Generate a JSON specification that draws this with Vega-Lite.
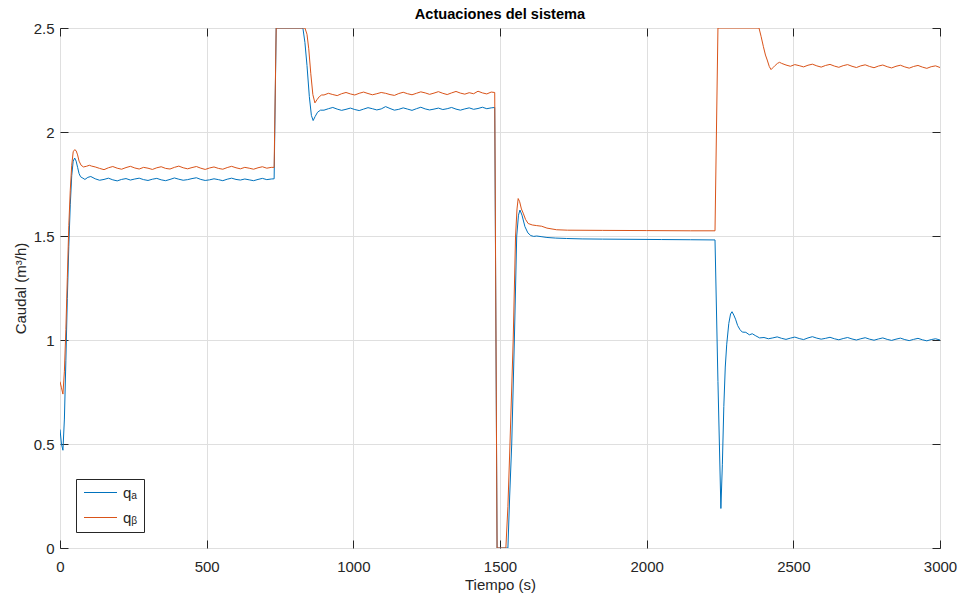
{
  "$schema": "https://vega.github.io/schema/vega-lite/v6.json",
  "width": 880,
  "height": 520,
  "autosize": {"type": "none"},
  "padding": {"left": 60, "top": 28, "right": 20, "bottom": 51},
  "background": "white",
  "title": {"text": "Actuaciones del sistema", "fontSize": 14.6, "fontWeight": "bold", "font": "Liberation Sans", "color": "#000000", "offset": -1, "anchor": "middle"},
  "config": {
    "view": {"stroke": "#262626", "strokeWidth": 1},
    "axis": {
      "domain": false,
      "labelFont": "Liberation Sans",
      "labelFontSize": 15,
      "labelColor": "#262626",
      "titleFont": "Liberation Sans",
      "titleFontSize": 15,
      "titleFontWeight": "normal",
      "titleColor": "#262626",
      "gridColor": "#dfdfdf",
      "gridWidth": 1,
      "tickColor": "#262626",
      "tickSize": -8
    },
    "legend": {
      "labelFont": "Liberation Sans",
      "labelFontSize": 15,
      "labelColor": "#262626"
    }
  },
  "datasets": {
    "qa": [
      {"t":0,"q":0.57},{"t":5,"q":0.50},{"t":10,"q":0.47},{"t":15,"q":0.62},{"t":20,"q":0.90},{"t":25,"q":1.20},{"t":30,"q":1.45},{"t":35,"q":1.65},{"t":40,"q":1.79},{"t":45,"q":1.86},{"t":50,"q":1.875},{"t":55,"q":1.86},{"t":60,"q":1.83},{"t":65,"q":1.80},{"t":70,"q":1.785},{"t":78,"q":1.778},{"t":85,"q":1.772},{"t":95,"q":1.782},{"t":105,"q":1.786},
      {"t":120,"q":1.775},{"t":135,"q":1.768},{"t":150,"q":1.772},{"t":165,"q":1.778},{"t":180,"q":1.770},{"t":195,"q":1.765},{"t":210,"q":1.772},{"t":225,"q":1.776},{"t":240,"q":1.769},{"t":255,"q":1.774},{"t":270,"q":1.778},{"t":285,"q":1.771},{"t":300,"q":1.767},{"t":315,"q":1.773},{"t":330,"q":1.777},{"t":345,"q":1.770},{"t":360,"q":1.766},{"t":375,"q":1.772},{"t":390,"q":1.779},{"t":405,"q":1.773},{"t":420,"q":1.768},{"t":435,"q":1.771},{"t":450,"q":1.776},{"t":465,"q":1.780},{"t":480,"q":1.772},{"t":495,"q":1.767},{"t":510,"q":1.770},{"t":525,"q":1.775},{"t":540,"q":1.771},{"t":555,"q":1.766},{"t":570,"q":1.773},{"t":585,"q":1.778},{"t":600,"q":1.772},{"t":615,"q":1.769},{"t":630,"q":1.774},{"t":645,"q":1.770},{"t":660,"q":1.766},{"t":675,"q":1.772},{"t":690,"q":1.777},{"t":705,"q":1.771},{"t":720,"q":1.774},
      {"t":730,"q":1.775},{"t":737,"q":2.5},{"t":828,"q":2.5},{"t":835,"q":2.43},{"t":842,"q":2.32},{"t":850,"q":2.17},{"t":857,"q":2.08},{"t":863,"q":2.055},{"t":870,"q":2.075},{"t":878,"q":2.095},{"t":888,"q":2.105},
      {"t":900,"q":2.105},{"t":915,"q":2.112},{"t":930,"q":2.118},{"t":945,"q":2.110},{"t":960,"q":2.104},{"t":975,"q":2.109},{"t":990,"q":2.115},{"t":1005,"q":2.108},{"t":1020,"q":2.103},{"t":1035,"q":2.110},{"t":1050,"q":2.117},{"t":1065,"q":2.112},{"t":1080,"q":2.106},{"t":1095,"q":2.111},{"t":1110,"q":2.122},{"t":1125,"q":2.113},{"t":1140,"q":2.105},{"t":1155,"q":2.109},{"t":1170,"q":2.116},{"t":1185,"q":2.110},{"t":1200,"q":2.104},{"t":1215,"q":2.112},{"t":1230,"q":2.119},{"t":1245,"q":2.111},{"t":1260,"q":2.106},{"t":1275,"q":2.110},{"t":1290,"q":2.115},{"t":1305,"q":2.108},{"t":1320,"q":2.112},{"t":1335,"q":2.118},{"t":1350,"q":2.110},{"t":1365,"q":2.105},{"t":1380,"q":2.111},{"t":1395,"q":2.116},{"t":1410,"q":2.109},{"t":1425,"q":2.113},{"t":1440,"q":2.119},{"t":1455,"q":2.112},{"t":1470,"q":2.116},
      {"t":1482,"q":2.118},{"t":1490,"q":0},{"t":1527,"q":0},{"t":1533,"q":0.25},{"t":1540,"q":0.5},{"t":1549,"q":1.0},{"t":1557,"q":1.5},{"t":1563,"q":1.6},{"t":1568,"q":1.625},{"t":1575,"q":1.60},{"t":1585,"q":1.545},{"t":1595,"q":1.515},{"t":1605,"q":1.502},{"t":1615,"q":1.498},{"t":1625,"q":1.50},{"t":1640,"q":1.497},{"t":1660,"q":1.493},{"t":1690,"q":1.49},{"t":1727,"q":1.488},{"t":1780,"q":1.486},{"t":1850,"q":1.485},{"t":1950,"q":1.484},{"t":2050,"q":1.483},{"t":2150,"q":1.482},{"t":2233,"q":1.481},
      {"t":2243,"q":0.8},{"t":2253,"q":0.19},{"t":2258,"q":0.40},{"t":2263,"q":0.68},{"t":2268,"q":0.87},{"t":2273,"q":0.98},{"t":2280,"q":1.08},{"t":2286,"q":1.125},{"t":2291,"q":1.136},{"t":2297,"q":1.12},{"t":2303,"q":1.10},{"t":2310,"q":1.07},{"t":2318,"q":1.05},{"t":2326,"q":1.038},{"t":2338,"q":1.037},{"t":2350,"q":1.025},{"t":2360,"q":1.03},{"t":2372,"q":1.02},{"t":2385,"q":1.01},
      {"t":2400,"q":1.012},{"t":2415,"q":1.006},{"t":2430,"q":1.010},{"t":2445,"q":1.015},{"t":2460,"q":1.008},{"t":2475,"q":1.003},{"t":2490,"q":1.009},{"t":2505,"q":1.014},{"t":2520,"q":1.007},{"t":2535,"q":1.002},{"t":2550,"q":1.010},{"t":2565,"q":1.016},{"t":2580,"q":1.009},{"t":2595,"q":1.004},{"t":2610,"q":1.008},{"t":2625,"q":1.013},{"t":2640,"q":1.006},{"t":2655,"q":1.001},{"t":2670,"q":1.007},{"t":2685,"q":1.012},{"t":2700,"q":1.005},{"t":2715,"q":1.000},{"t":2730,"q":1.006},{"t":2745,"q":1.011},{"t":2760,"q":1.004},{"t":2775,"q":0.999},{"t":2790,"q":1.005},{"t":2805,"q":1.010},{"t":2820,"q":1.003},{"t":2835,"q":0.998},{"t":2850,"q":1.004},{"t":2865,"q":1.009},{"t":2880,"q":1.002},{"t":2895,"q":0.997},{"t":2910,"q":1.003},{"t":2925,"q":1.008},{"t":2940,"q":1.001},{"t":2955,"q":0.996},{"t":2970,"q":1.002},{"t":2985,"q":1.006},{"t":3000,"q":1.000}
    ],
    "qb": [
      {"t":0,"q":0.80},{"t":5,"q":0.77},{"t":10,"q":0.74},{"t":15,"q":0.85},{"t":20,"q":1.05},{"t":25,"q":1.30},{"t":30,"q":1.55},{"t":35,"q":1.72},{"t":40,"q":1.84},{"t":45,"q":1.905},{"t":50,"q":1.915},{"t":55,"q":1.91},{"t":60,"q":1.89},{"t":65,"q":1.86},{"t":72,"q":1.84},{"t":80,"q":1.832},{"t":90,"q":1.835},{"t":100,"q":1.84},{"t":108,"q":1.836},
      {"t":120,"q":1.832},{"t":135,"q":1.825},{"t":150,"q":1.819},{"t":165,"q":1.828},{"t":180,"q":1.834},{"t":195,"q":1.826},{"t":210,"q":1.821},{"t":225,"q":1.829},{"t":240,"q":1.835},{"t":255,"q":1.827},{"t":270,"q":1.822},{"t":285,"q":1.830},{"t":300,"q":1.826},{"t":315,"q":1.820},{"t":330,"q":1.828},{"t":345,"q":1.833},{"t":360,"q":1.825},{"t":375,"q":1.822},{"t":390,"q":1.830},{"t":405,"q":1.836},{"t":420,"q":1.828},{"t":435,"q":1.823},{"t":450,"q":1.829},{"t":465,"q":1.834},{"t":480,"q":1.826},{"t":495,"q":1.820},{"t":510,"q":1.827},{"t":525,"q":1.832},{"t":540,"q":1.825},{"t":555,"q":1.821},{"t":570,"q":1.829},{"t":585,"q":1.835},{"t":600,"q":1.828},{"t":615,"q":1.823},{"t":630,"q":1.830},{"t":645,"q":1.826},{"t":660,"q":1.821},{"t":675,"q":1.828},{"t":690,"q":1.833},{"t":705,"q":1.826},{"t":720,"q":1.830},
      {"t":730,"q":1.83},{"t":737,"q":2.5},{"t":835,"q":2.5},{"t":842,"q":2.47},{"t":848,"q":2.40},{"t":855,"q":2.28},{"t":862,"q":2.18},{"t":869,"q":2.14},{"t":876,"q":2.155},{"t":884,"q":2.17},{"t":892,"q":2.178},
      {"t":900,"q":2.178},{"t":915,"q":2.186},{"t":930,"q":2.180},{"t":945,"q":2.175},{"t":960,"q":2.184},{"t":975,"q":2.190},{"t":990,"q":2.183},{"t":1005,"q":2.178},{"t":1020,"q":2.186},{"t":1035,"q":2.192},{"t":1050,"q":2.185},{"t":1065,"q":2.179},{"t":1080,"q":2.184},{"t":1095,"q":2.190},{"t":1110,"q":2.186},{"t":1125,"q":2.180},{"t":1140,"q":2.176},{"t":1155,"q":2.185},{"t":1170,"q":2.191},{"t":1185,"q":2.184},{"t":1200,"q":2.179},{"t":1215,"q":2.186},{"t":1230,"q":2.193},{"t":1245,"q":2.188},{"t":1260,"q":2.181},{"t":1275,"q":2.187},{"t":1290,"q":2.194},{"t":1305,"q":2.186},{"t":1320,"q":2.180},{"t":1335,"q":2.188},{"t":1350,"q":2.195},{"t":1365,"q":2.187},{"t":1380,"q":2.182},{"t":1395,"q":2.189},{"t":1410,"q":2.184},{"t":1425,"q":2.196},{"t":1440,"q":2.188},{"t":1455,"q":2.183},{"t":1470,"q":2.192},
      {"t":1482,"q":2.19},{"t":1490,"q":0},{"t":1520,"q":0},{"t":1527,"q":0.2},{"t":1534,"q":0.5},{"t":1545,"q":1.0},{"t":1553,"q":1.5},{"t":1558,"q":1.63},{"t":1562,"q":1.68},{"t":1567,"q":1.665},{"t":1573,"q":1.63},{"t":1579,"q":1.61},{"t":1587,"q":1.58},{"t":1596,"q":1.56},{"t":1610,"q":1.553},{"t":1625,"q":1.55},{"t":1642,"q":1.547},{"t":1660,"q":1.538},{"t":1693,"q":1.53},{"t":1730,"q":1.528},{"t":1850,"q":1.527},{"t":2000,"q":1.526},{"t":2150,"q":1.525},{"t":2233,"q":1.525},
      {"t":2243,"q":2.5},{"t":2383,"q":2.5},{"t":2390,"q":2.46},{"t":2398,"q":2.41},{"t":2405,"q":2.37},{"t":2411,"q":2.346},{"t":2418,"q":2.315},{"t":2424,"q":2.30},{"t":2431,"q":2.31},{"t":2438,"q":2.32},{"t":2446,"q":2.33},{"t":2453,"q":2.335},
      {"t":2460,"q":2.330},{"t":2475,"q":2.322},{"t":2490,"q":2.316},{"t":2505,"q":2.324},{"t":2520,"q":2.319},{"t":2535,"q":2.313},{"t":2550,"q":2.321},{"t":2565,"q":2.326},{"t":2580,"q":2.318},{"t":2595,"q":2.312},{"t":2610,"q":2.320},{"t":2625,"q":2.325},{"t":2640,"q":2.317},{"t":2655,"q":2.311},{"t":2670,"q":2.319},{"t":2685,"q":2.324},{"t":2700,"q":2.316},{"t":2715,"q":2.310},{"t":2730,"q":2.318},{"t":2745,"q":2.323},{"t":2760,"q":2.315},{"t":2775,"q":2.309},{"t":2790,"q":2.317},{"t":2805,"q":2.322},{"t":2820,"q":2.314},{"t":2835,"q":2.308},{"t":2850,"q":2.316},{"t":2865,"q":2.321},{"t":2880,"q":2.313},{"t":2895,"q":2.307},{"t":2910,"q":2.315},{"t":2925,"q":2.320},{"t":2940,"q":2.312},{"t":2955,"q":2.306},{"t":2970,"q":2.314},{"t":2985,"q":2.318},{"t":3000,"q":2.310}
    ]
  },
  "layer": [
    {
      "data": {"name": "qa"},
      "mark": {"type": "line", "strokeWidth": 1, "clip": true},
      "encoding": {
        "x": {"field": "t", "type": "quantitative", "scale": {"domain": [0, 3000], "nice": false, "zero": false},
              "axis": {"orient": "bottom", "title": "Tiempo (s)", "values": [0, 500, 1000, 1500, 2000, 2500, 3000], "format": "d", "labelPadding": 19, "titlePadding": 3, "labelFlush": false}},
        "y": {"field": "q", "type": "quantitative", "scale": {"domain": [0, 2.5], "nice": false, "zero": false},
              "axis": {"orient": "left", "title": "Caudal (m³/h)", "values": [0, 0.5, 1, 1.5, 2, 2.5], "format": ".2~f", "labelPadding": 14, "titlePadding": 5, "labelFlush": false}},
        "color": {"datum": "qₐ", "type": "nominal",
                  "scale": {"domain": ["qₐ", "qᵦ"], "range": ["#0072BD", "#D95319"]},
                  "legend": {"orient": "bottom-left", "offset": 16, "title": null, "fillColor": "white", "strokeColor": "#262626", "padding": 6, "symbolType": "M-1,0H5", "symbolSize": 121, "symbolStrokeWidth": 1, "rowPadding": 9, "labelOffset": 26}}
      }
    },
    {
      "data": {"name": "qb"},
      "mark": {"type": "line", "strokeWidth": 1, "clip": true},
      "encoding": {
        "x": {"field": "t", "type": "quantitative",
              "axis": {"orient": "top", "title": null, "labels": false, "grid": false, "values": [0, 500, 1000, 1500, 2000, 2500, 3000]}},
        "y": {"field": "q", "type": "quantitative",
              "axis": {"orient": "right", "title": null, "labels": false, "grid": false, "values": [0, 0.5, 1, 1.5, 2, 2.5]}},
        "color": {"datum": "qᵦ", "type": "nominal"}
      }
    }
  ],
  "resolve": {"axis": {"x": "independent", "y": "independent"}}
}
